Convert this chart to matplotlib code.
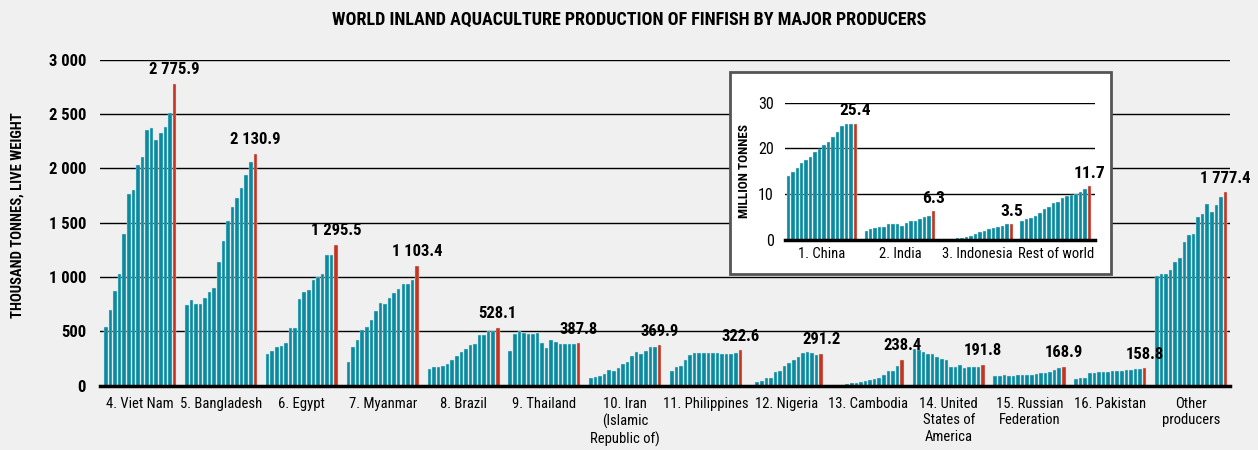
import matplotlib
matplotlib.use('Agg')
import matplotlib.pyplot as plt
from matplotlib import font_manager
from matplotlib.patches import Rectangle

# thousand tonnes, 16 years each; last year is shown in red
viet_nam = [537, 693, 868, 1025, 1393, 1761, 1804, 2028, 2107, 2356, 2368, 2261, 2322, 2380, 2512, 2775.9]
bangladesh = [742, 788, 748, 753, 804, 862, 902, 1138, 1328, 1515, 1641, 1727, 1822, 1936, 2055, 2130.9]
egypt = [290, 321, 358, 364, 392, 525, 528, 793, 864, 883, 969, 1003, 1028, 1204, 1198, 1295.5]
myanmar = [216, 352, 423, 512, 540, 602, 685, 756, 747, 809, 855, 889, 932, 935, 972, 1103.4]
brazil = [156, 169, 169, 181, 197, 234, 272, 309, 338, 369, 381, 466, 469, 503, 506, 528.1]
thailand = [319, 478, 500, 488, 478, 478, 488, 391, 347, 422, 403, 384, 381, 384, 378, 387.8]
iran = [69, 81, 91, 109, 144, 138, 159, 194, 216, 269, 306, 288, 316, 356, 356, 369.9]
philippines = [138, 166, 184, 231, 278, 297, 297, 297, 297, 300, 303, 291, 291, 291, 303, 322.6]
nigeria = [9, 28, 41, 66, 66, 128, 138, 181, 209, 238, 266, 300, 306, 297, 281, 291.2]
cambodia = [3, 6, 9, 16, 19, 22, 28, 38, 50, 57, 66, 94, 129, 138, 176, 238.4]
usa = [336, 327, 308, 289, 289, 261, 242, 236, 173, 173, 186, 160, 167, 167, 170, 191.8]
russia = [91, 91, 94, 91, 91, 101, 101, 101, 101, 104, 116, 117, 120, 142, 157, 168.9]
pakistan = [62, 65, 65, 111, 117, 123, 127, 127, 130, 133, 136, 139, 145, 148, 148, 158.8]
other = [1012, 1031, 1031, 1061, 1141, 1175, 1322, 1387, 1396, 1549, 1577, 1675, 1601, 1666, 1739, 1777.4]

producers = ['4. Viet Nam', '5. Bangladesh', '6. Egypt', '7. Myanmar', '8. Brazil',
             '9. Thailand', '10. Iran\n(Islamic\nRepublic of)', '11. Philippines',
             '12. Nigeria', '13. Cambodia', '14. United\nStates of\nAmerica',
             '15. Russian\nFederation', '16. Pakistan', 'Other\nproducers']
groups = [viet_nam, bangladesh, egypt, myanmar, brazil, thailand, iran, philippines,
          nigeria, cambodia, usa, russia, pakistan, other]

# inset, million tonnes
china = [14.0, 14.9, 15.7, 16.8, 17.5, 18.2, 19.2, 19.9, 20.7, 21.4, 22.6, 23.7, 24.8, 25.4, 25.4, 25.4]
india = [2.0, 2.5, 2.7, 2.8, 2.8, 3.5, 3.5, 3.5, 3.1, 3.8, 4.1, 4.1, 4.5, 5.0, 5.3, 6.3]
indonesia = [0.2, 0.2, 0.3, 0.4, 0.5, 0.7, 0.8, 1.3, 1.7, 2.0, 2.5, 2.6, 2.8, 3.0, 3.6, 3.5]
rest_of_world = [4.1, 4.6, 4.9, 5.3, 6.0, 6.8, 7.2, 8.1, 8.4, 9.2, 9.7, 9.8, 10.0, 10.5, 11.1, 11.7]
top_producers = ['1. China', '2. India', '3. Indonesia', 'Rest of world']
top_groups = [china, india, indonesia, rest_of_world]

TEAL = '#0a8aa0'
RED = '#c8321e'
BG = '#f0f0f0'

# pick a narrow font if one exists
installed = {f.name for f in font_manager.fontManager.ttflist}
font = 'DejaVu Sans'
for fam in ['Roboto Condensed', 'Liberation Sans Narrow', 'Open Sans Condensed']:
    if fam in installed:
        font = fam
        break
plt.rcParams['font.family'] = font
if font == 'DejaVu Sans':
    plt.rcParams['font.stretch'] = 'condensed'


def fmt(v):
    return f'{v:,.1f}'.replace(',', ' ')


fig = plt.figure(figsize=(12.58, 4.5), dpi=100, facecolor=BG)
ax = fig.add_axes([100 / 1258, 1 - 385.5 / 450, 1130 / 1258, 325.8 / 450], facecolor=BG)

pitch = 17.7
centers = []
for g, vals in enumerate(groups):
    xs = [g * pitch + i for i in range(len(vals))]
    cols = [TEAL] * (len(vals) - 1) + [RED]
    ax.bar(xs, vals, width=0.78, color=cols, edgecolor='#cfe6ea', linewidth=0.3, zorder=2)
    ax.annotate(fmt(vals[-1]), (xs[-1], vals[-1]), xytext=(0, 7), textcoords='offset points',
                ha='center', va='baseline', fontsize=12, weight='bold')
    centers.append((xs[0] + xs[-1]) / 2)

ax.set_xlim(-1.3, 13 * pitch + 15 + 1.0)
ax.set_ylim(0, 3000)
ax.set_yticks(range(0, 3001, 500))
ax.set_yticklabels([f'{v:,}'.replace(',', ' ') for v in range(0, 3001, 500)],
                   fontsize=12, weight='bold')
ax.set_xticks(centers)
ax.set_xticklabels(producers, fontsize=10.5, linespacing=1.25, va='top')
ax.tick_params(axis='both', length=0)
ax.tick_params(axis='x', pad=8)
ax.tick_params(axis='y', pad=10)
ax.yaxis.grid(True, color='black', linewidth=1)
ax.set_axisbelow(True)
for s in ['top', 'right', 'left']:
    ax.spines[s].set_visible(False)
ax.spines['bottom'].set_linewidth(2.5)
ax.spines['bottom'].set_zorder(3)

fig.text(629 / 1258, 1 - 20 / 450, 'WORLD INLAND AQUACULTURE PRODUCTION OF FINFISH BY MAJOR PRODUCERS',
         ha='center', va='center', fontsize=13, weight='bold')
fig.text(18 / 1258, 1 - 215 / 450, 'THOUSAND TONNES, LIVE WEIGHT', rotation=90,
         ha='center', va='center', fontsize=10.5, weight='bold')

# inset box
box = Rectangle((730 / 1258, 1 - 274 / 450), 381 / 1258, 202 / 450, transform=fig.transFigure,
                facecolor='white', edgecolor='#555555', linewidth=2, zorder=1)
fig.patches.append(box)

ins = fig.add_axes([785 / 1258, 1 - 240 / 450, 310 / 1258, 137.3 / 450], facecolor='white', zorder=2)
ipitch = 17.4
icenters = []
for g, vals in enumerate(top_groups):
    xs = [g * ipitch + i for i in range(len(vals))]
    cols = [TEAL] * (len(vals) - 1) + [RED]
    ins.bar(xs, vals, width=0.78, color=cols, edgecolor='#cfe6ea', linewidth=0.3, zorder=2)
    ins.annotate(f'{vals[-1]:.1f}', (xs[-1], vals[-1]), xytext=(0, 6), textcoords='offset points',
                 ha='center', va='baseline', fontsize=12.5, weight='bold')
    icenters.append((xs[0] + xs[-1]) / 2)

ins.set_xlim(-0.74, 3 * ipitch + 15 + 1.27)
ins.set_ylim(0, 30)
ins.set_yticks([0, 10, 20, 30])
ins.set_yticklabels(['0', '10', '20', '30'], fontsize=11.5)
ins.set_xticks(icenters)
ins.set_xticklabels(top_producers, fontsize=10.5)
ins.tick_params(axis='both', length=0)
ins.tick_params(axis='x', pad=5)
ins.tick_params(axis='y', pad=8)
ins.yaxis.grid(True, color='black', linewidth=1)
ins.set_axisbelow(True)
ins.set_ylabel('MILLION TONNES', fontsize=9.5, weight='bold', labelpad=5)
for s in ['top', 'right', 'left']:
    ins.spines[s].set_visible(False)
ins.spines['bottom'].set_linewidth(2.5)
ins.spines['bottom'].set_zorder(3)

fig.savefig('out.png', dpi=100, facecolor=BG)
